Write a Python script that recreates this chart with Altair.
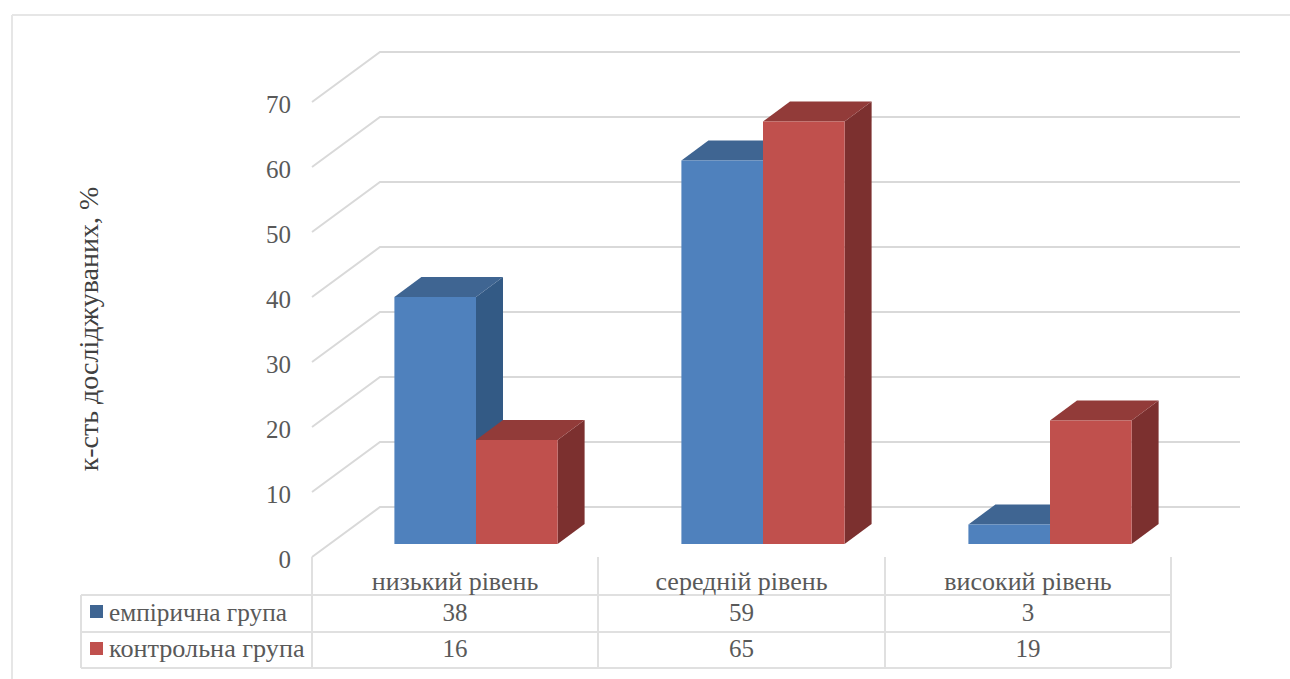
import altair as alt
import pandas as pd

# Chart content
levels = ["низький рівень", "середній рівень", "високий рівень"]
series_names = ["емпірична група", "контрольна група"]
empirical = [38, 59, 3]
control = [16, 65, 19]
y_ticks = [0, 10, 20, 30, 40, 50, 60, 70]
y_title = "к-сть досліджуваних, %"

# Layout of the drawing, in pixels of the 1290x679 view
W, H = 1290, 679
BASE_Y = 544          # front edge of the bars at value 0
PX_PER_UNIT = 6.5
CENTER0, STEP = 476, 287
BAR_W = 81.6
DEPTH_X, DEPTH_UNITS = 27, 20 / PX_PER_UNIT
WALL_L, WALL_R, FLOOR_L = 380, 1240, 312
WALL_SHIFT = 37 / PX_PER_UNIT
FRONT_SHIFT = -13 / PX_PER_UNIT
LABEL_SHIFT = -15.5 / PX_PER_UNIT
FONT = "Liberation Serif"
TEXT = "#595959"
GRID = "#D9D9D9"
BLUE = {"front": "#4F81BD", "top": "#3F6592", "side": "#335A85"}
RED = {"front": "#C0504D", "top": "#923B39", "side": "#7C302F"}

x_scale = alt.Scale(domain=[0, W], range=[0, W], nice=False, zero=False)
y_scale = alt.Scale(domain=[(BASE_Y - H) / PX_PER_UNIT, BASE_Y / PX_PER_UNIT],
                    range=[H, 0], nice=False, zero=False)
X = lambda f: alt.X(f, type="quantitative", scale=x_scale, axis=None)
Y = lambda f: alt.Y(f, type="quantitative", scale=y_scale, axis=None)
PX = lambda f: alt.Y(f, type="quantitative", scale=None, axis=None)


def bar_layers(values, offset, palette):
    """Front, top and side faces of one series of 3D columns."""
    front, top, side = [], [], []
    for i, v in enumerate(values):
        x0 = CENTER0 + STEP * i + offset
        x1 = x0 + BAR_W
        d = DEPTH_UNITS
        front.append({"x": x0, "x2": x1, "y": v, "y2": 0})
        top += [
            {"bar": i, "x": x0, "y": v, "y2": v},
            {"bar": i, "x": x0 + DEPTH_X, "y": v + d, "y2": v},
            {"bar": i, "x": x1, "y": v + d, "y2": v},
            {"bar": i, "x": x1 + DEPTH_X, "y": v + d, "y2": v + d},
        ]
        side += [
            {"bar": i, "x": x1, "y": v, "y2": 0},
            {"bar": i, "x": x1 + DEPTH_X, "y": v + d, "y2": d},
        ]
    area = lambda rows, colour: alt.Chart(pd.DataFrame(rows)).mark_area(
        fill=colour, opacity=1
    ).encode(x=X("x"), y=Y("y"), y2=alt.Y2("y2"), detail="bar:N")
    return [
        area(side, palette["side"]),
        area(top, palette["top"]),
        alt.Chart(pd.DataFrame(front)).mark_rect(color=palette["front"]).encode(
            x=X("x"), x2=alt.X2("x2"), y=Y("y"), y2=alt.Y2("y2")
        ),
    ]


# Back wall, side wall and floor lines
grid_rows = []
for k in y_ticks:
    for x, v in [(FLOOR_L, k + FRONT_SHIFT), (WALL_L, k + WALL_SHIFT), (WALL_R, k + WALL_SHIFT)]:
        grid_rows.append({"k": k, "x": x, "y": v})
grid = alt.Chart(pd.DataFrame(grid_rows)).mark_line(color=GRID, strokeWidth=2).encode(
    x=X("x"), y=Y("y"), detail="k:N", order="x:Q"
)

tick_labels = alt.Chart(pd.DataFrame({
    "k": y_ticks, "y": [k + LABEL_SHIFT for k in y_ticks], "x": [291] * len(y_ticks)
})).mark_text(font=FONT, fontSize=25, color=TEXT, align="right", baseline="middle").encode(
    x=X("x"), y=Y("y"), text="k:Q"
)

axis_title = alt.Chart(pd.DataFrame({"t": [y_title], "x": [90], "py": [329]})).mark_text(
    font=FONT, fontSize=28, color="#404040", angle=270, align="center", baseline="middle"
).encode(x=X("x"), y=PX("py"), text="t:N")

# Data table below the columns
ROW_LINES = [595, 632, 668]
COL_LINES = [312, 598, 885, 1171]
TABLE_L = 81
rule_rows = [{"x": TABLE_L, "x2": COL_LINES[-1], "py": y, "py2": y} for y in ROW_LINES]
rule_rows += [{"x": x, "x2": x, "py": 557, "py2": ROW_LINES[-1]} for x in COL_LINES]
rule_rows.append({"x": TABLE_L, "x2": TABLE_L, "py": ROW_LINES[0], "py2": ROW_LINES[-1]})
table_rules = alt.Chart(pd.DataFrame(rule_rows)).mark_rule(color="#E0E0E0", strokeWidth=2).encode(
    x=X("x"), x2=alt.X2("x2"), y=PX("py"), y2=alt.Y2("py2")
)

centers = [(a + b) / 2 for a, b in zip(COL_LINES, COL_LINES[1:])]
label_rows = [{"x": c, "py": 582, "t": l} for c, l in zip(centers, levels)]
labels = alt.Chart(pd.DataFrame(label_rows)).mark_text(
    font=FONT, fontSize=26, color=TEXT, align="center", baseline="middle"
).encode(x=X("x"), y=PX("py"), text="t:N")

cell_rows = [{"x": c, "py": 613, "t": str(v)} for c, v in zip(centers, empirical)]
cell_rows += [{"x": c, "py": 649, "t": str(v)} for c, v in zip(centers, control)]
cells = alt.Chart(pd.DataFrame(cell_rows)).mark_text(
    font=FONT, fontSize=25, color=TEXT, align="center", baseline="middle"
).encode(x=X("x"), y=PX("py"), text="t:N")


def row_head(name, y, size):
    return alt.Chart(pd.DataFrame({"x": [109], "py": [y], "t": [name]})).mark_text(
        font=FONT, fontSize=size, color=TEXT, align="left", baseline="middle"
    ).encode(x=X("x"), y=PX("py"), text="t:N")


def swatch(colour, y0):
    return alt.Chart(pd.DataFrame({"x": [90], "x2": [103], "py": [y0], "py2": [y0 + 13]})).mark_rect(
        color=colour
    ).encode(x=X("x"), x2=alt.X2("x2"), y=PX("py"), y2=alt.Y2("py2"))


# Faint sheet outline
outline = alt.Chart(pd.DataFrame({
    "x": [12, 12], "x2": [W, 12], "py": [15, 15], "py2": [15, H]
})).mark_rule(color="#E6E6E6", strokeWidth=2).encode(
    x=X("x"), x2=alt.X2("x2"), y=PX("py"), y2=alt.Y2("py2")
)

chart = alt.layer(
    outline, grid,
    *bar_layers(empirical, -BAR_W, BLUE),
    *bar_layers(control, 0, RED),
    tick_labels, axis_title, table_rules, labels, cells,
    row_head(series_names[0], 613, 25.3), row_head(series_names[1], 649, 26.2),
    swatch(BLUE["top"], 605), swatch(RED["front"], 642),
).properties(
    width=W, height=H, padding=0, autosize=alt.AutoSizeParams(type="none"), background="white"
).configure_view(stroke=None)

chart.save("out.html", embed_options={"renderer": "svg", "actions": False})
